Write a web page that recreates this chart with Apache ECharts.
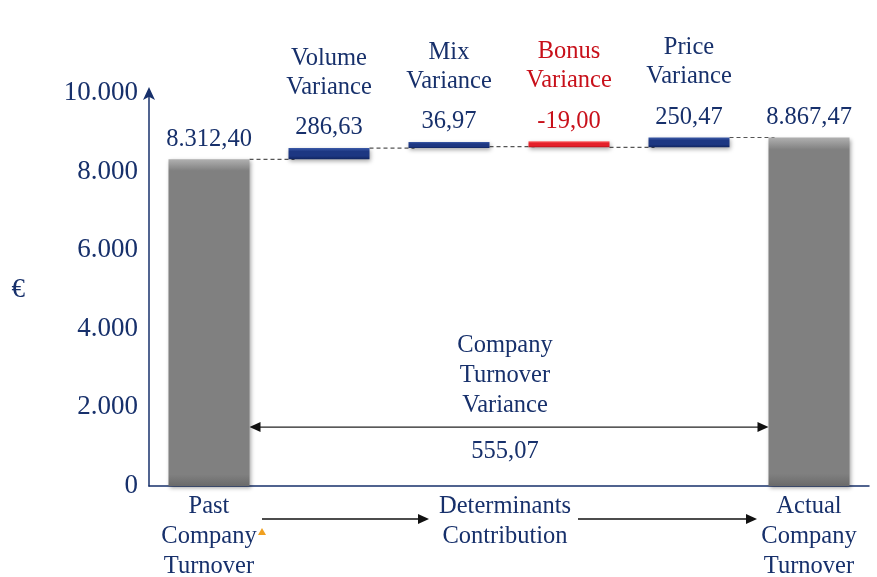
<!DOCTYPE html>
<html>
<head>
<meta charset="utf-8">
<script src="https://cdn.jsdelivr.net/npm/echarts@6/dist/echarts.min.js"></script>
<style>
  html, body { margin: 0; padding: 0; background: #fff; }
  #main { width: 877px; height: 577px; }
</style>
</head>
<body>
<div id="main"></div>
<script>
// chart data
var categories = ['Past Company Turnover', 'Volume Variance', 'Mix Variance', 'Bonus Variance', 'Price Variance', 'Actual Company Turnover']
var startValue = 8312.40
var variances = [286.63, 36.97, -19.00, 250.47]
var endValue = 8867.47
var yTicks = [0, 2000, 4000, 6000, 8000, 10000]
var groupLabel = 'Determinants\nContribution'
var spanLabel = 'Company\nTurnover\nVariance'

var navy = '#17306b'
var red = '#c8101a'
var font = '"Liberation Serif", "Times New Roman", serif'
var barW = 81
var fs = 24.5

// euro style number: 8.312,40
function fmt(v, dec) {
  var s = Math.abs(v).toFixed(dec)
  var parts = s.split('.')
  var int = parts[0].replace(/\B(?=(\d{3})+(?!\d))/g, '.')
  return (v < 0 ? '-' : '') + int + (parts[1] ? ',' + parts[1] : '')
}

function grad(light, mid, dark, edge) {
  return new echarts.graphic.LinearGradient(0, 0, 0, 1, [
    { offset: 0, color: light },
    { offset: edge, color: mid },
    { offset: 1 - edge, color: mid },
    { offset: 1, color: dark }
  ])
}

// waterfall pieces
var bases = [0]
var heights = [startValue]
var levels = [startValue]
var running = startValue
variances.forEach(function(v) {
  bases.push(v >= 0 ? running : running + v)
  heights.push(Math.abs(v))
  running += v
  levels.push(running)
})
bases.push(0)
heights.push(endValue)

var grayFill = grad('#b0b0b0', '#808080', '#6a6a6a', 0.035)
var blueFill = grad('#3b5aa8', '#1d3782', '#10245e', 0.3)
var redFill = grad('#ff6a6a', '#e4202a', '#b81018', 0.3)

var deltaData = heights.map(function(h, i) {
  var c = grayFill
  if (i > 0 && i < heights.length - 1) c = variances[i - 1] < 0 ? redFill : blueFill
  return { value: h, itemStyle: { color: c } }
})

var connectorData = levels.map(function(l, i) { return [i, l] })

var chart = echarts.init(document.getElementById('main'))

chart.setOption({
  animation: false,
  textStyle: { fontFamily: font },
  grid: { left: 149, right: 8, top: 93, bottom: 91, outerBoundsMode: 'none', containLabel: false },
  xAxis: {
    type: 'category',
    data: categories,
    axisLine: { lineStyle: { color: navy, width: 1.5 } },
    axisTick: { show: false },
    axisLabel: {
      interval: 0,
      margin: 6,
      color: navy,
      fontSize: fs,
      lineHeight: 30,
      fontFamily: font,
      formatter: function(v, i) {
        return (i === 0 || i === categories.length - 1) ? v.split(' ').join('\n') : ''
      }
    }
  },
  yAxis: {
    type: 'value',
    min: yTicks[0],
    max: yTicks[yTicks.length - 1],
    interval: yTicks[1] - yTicks[0],
    name: '€',
    nameLocation: 'middle',
    nameRotate: 0,
    nameGap: 124,
    nameTextStyle: { color: navy, fontSize: 27, fontFamily: font },
    splitLine: { show: false },
    axisTick: { show: false },
    axisLine: { show: true, symbol: ['none', 'arrow'], symbolSize: [9, 13], symbolOffset: [0, 6], lineStyle: { color: navy, width: 1.5 } },
    axisLabel: {
      color: navy,
      fontSize: 27,
      fontFamily: font,
      margin: 11,
      formatter: function(v) { return fmt(v, 0) }
    }
  },
  series: [
    {
      name: 'base',
      type: 'bar',
      stack: 'w',
      silent: true,
      barWidth: barW,
      itemStyle: { color: 'transparent' },
      data: bases
    },
    {
      name: 'delta',
      type: 'bar',
      stack: 'w',
      barWidth: barW,
      barMinHeight: 6,
      itemStyle: {
        shadowBlur: 4,
        shadowOffsetX: 1,
        shadowOffsetY: 2,
        shadowColor: 'rgba(0,0,0,0.35)'
      },
      label: {
        show: true,
        position: 'top',
        distance: 5,
        formatter: function(p) {
          var i = p.dataIndex
          if (i === 0) return '{v|' + fmt(startValue, 2) + '}'
          if (i === categories.length - 1) return '{v|' + fmt(endValue, 2) + '}'
          var neg = variances[i - 1] < 0
          var words = categories[i].split(' ')
          var n = neg ? 'nr' : 'n'
          var v = neg ? 'vr' : 'v'
          return words.map(function(w) { return '{' + n + '|' + w + '}' }).join('\n') +
            '\n{s| }\n{' + v + '|' + fmt(variances[i - 1], 2) + '}'
        },
        rich: {
          n: { color: navy, fontSize: fs, lineHeight: 29, fontFamily: font },
          nr: { color: red, fontSize: fs, lineHeight: 29, fontFamily: font },
          s: { fontSize: 4, lineHeight: 11 },
          v: { color: navy, fontSize: fs, lineHeight: 30, fontFamily: font },
          vr: { color: red, fontSize: fs, lineHeight: 30, fontFamily: font }
        }
      },
      data: deltaData
    },
    {
      name: 'connector',
      type: 'custom',
      silent: true,
      z: 1,
      data: connectorData,
      renderItem: function(params, api) {
        var i = api.value(0)
        var lvl = api.value(1)
        var p1 = api.coord([i, lvl])
        var p2 = api.coord([i + 1, lvl])
        return {
          type: 'line',
          shape: { x1: p1[0] + barW / 2, y1: p1[1], x2: p2[0] - barW / 2 + 6, y2: p2[1] },
          style: { stroke: '#555', lineWidth: 1.2, lineDash: [4, 3] }
        }
      }
    }
  ]
})

// annotations placed from axis pixels
var xa = chart.convertToPixel({ xAxisIndex: 0 }, 0) + barW / 2
var xb = chart.convertToPixel({ xAxisIndex: 0 }, categories.length - 1) - barW / 2
var ya = chart.convertToPixel({ yAxisIndex: 0 }, 1500)
var xm = (xa + xb) / 2 - 4

function arrowHead(x, y, dir) {
  return { type: 'polygon', shape: { points: [[x, y], [x - dir * 11, y - 5], [x - dir * 11, y + 5]] }, style: { fill: '#111' } }
}

chart.setOption({
  graphic: [
    { type: 'line', shape: { x1: xa + 4, y1: ya, x2: xb - 4, y2: ya }, style: { stroke: '#222', lineWidth: 1.3 } },
    arrowHead(xa, ya, -1),
    arrowHead(xb, ya, 1),
    {
      type: 'text', x: xm, y: ya - 6,
      style: { text: spanLabel, fill: navy, font: fs + 'px ' + font, lineHeight: 30, align: 'center', verticalAlign: 'bottom' }
    },
    {
      type: 'text', x: xm, y: ya + 10,
      style: { text: fmt(endValue - startValue, 2), fill: navy, font: fs + 'px ' + font, lineHeight: 30, align: 'center', verticalAlign: 'top' }
    },
    {
      type: 'text', x: 505, y: 492,
      style: { text: groupLabel, fill: navy, font: fs + 'px ' + font, lineHeight: 30, align: 'center', verticalAlign: 'top' }
    },
    { type: 'line', shape: { x1: 262, y1: 519, x2: 418, y2: 519 }, style: { stroke: '#111', lineWidth: 1.3 } },
    arrowHead(429, 519, 1),
    { type: 'line', shape: { x1: 578, y1: 519, x2: 746, y2: 519 }, style: { stroke: '#111', lineWidth: 1.3 } },
    arrowHead(757, 519, 1),
    { type: 'polygon', shape: { points: [[262, 528], [258, 535], [266, 535]] }, style: { fill: '#f0a020' } }
  ]
})
</script>
</body>
</html>
